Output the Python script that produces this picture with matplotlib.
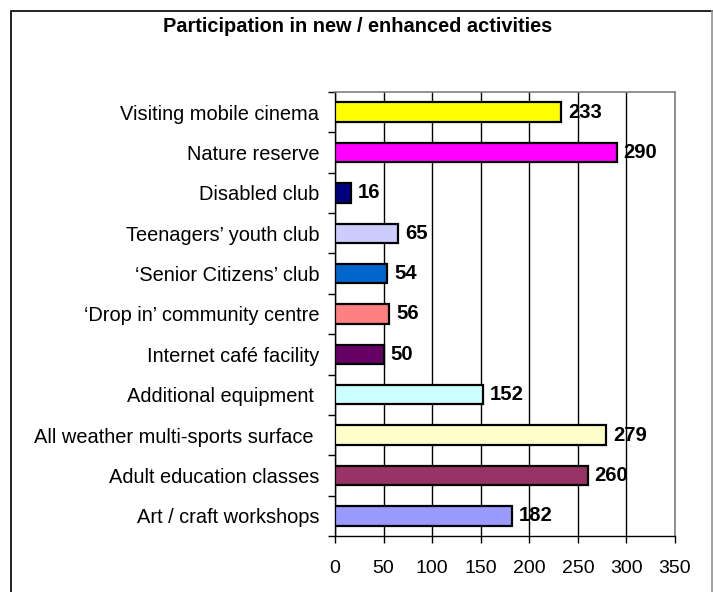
import numpy as np
import matplotlib.pyplot as plt
from matplotlib.lines import Line2D

plt.rcParams['font.family'] = ['Liberation Sans', 'DejaVu Sans']

# bottom to top
activities = [
    'Art / craft workshops',
    'Adult education classes',
    'All weather multi-sports surface ',
    'Additional equipment ',
    'Internet caf\u00e9 facility',
    '\u2018Drop in\u2019 community centre',
    '\u2018Senior Citizens\u2019 club',
    'Teenagers\u2019 youth club',
    'Disabled club',
    'Nature reserve',
    'Visiting mobile cinema',
]
participants = [182, 260, 279, 152, 50, 56, 54, 65, 16, 290, 233]
bar_colors = ['#9999FF', '#993366', '#FFFFCC', '#CCFFFF', '#660066', '#FF8080',
              '#0066CC', '#CCCCFF', '#000080', '#FF00FF', '#FFFF00']
x_ticks = [0, 50, 100, 150, 200, 250, 300, 350]

W, H = 713, 592
fig = plt.figure(figsize=(W / 100, H / 100), dpi=100)
ax = fig.add_axes([335 / W, 1 - 536 / H, 340 / W, 444 / H])

ypos = np.arange(len(activities))
ax.barh(ypos, participants, height=0.48, color=bar_colors,
        edgecolor='black', linewidth=1.6, zorder=3)

for y, v in zip(ypos, participants):
    ax.annotate(str(v), (v, y), xytext=(5, 0), textcoords='offset points',
                va='center', ha='left', fontsize=14.6, fontweight='bold')

ax.set_xlim(0, 350)
ax.set_ylim(-0.5, len(activities) - 0.5)
ax.set_xticks(x_ticks)
ax.set_yticks(ypos)
ax.set_yticklabels(activities)
ax.set_yticks(np.arange(-0.5, len(activities)), minor=True)
ax.tick_params(axis='y', which='major', length=0, pad=11.5, labelsize=14.4)
ax.tick_params(axis='y', which='minor', length=5, width=1, direction='out')
ax.tick_params(axis='x', length=5, width=1, direction='out', pad=12, labelsize=14)
ax.xaxis.grid(True, color='black', linewidth=1, zorder=0)

for side in ['top', 'right']:
    ax.spines[side].set_color('#808080')
    ax.spines[side].set_linewidth(1.2)
for side in ['left', 'bottom']:
    ax.spines[side].set_color('black')
    ax.spines[side].set_linewidth(1)

fig.text(0.501, 1 - 27 / H, 'Participation in new / enhanced activities',
         ha='center', va='center', fontsize=14.4, fontweight='bold')

# chart frame: left and top black, right edge grey, bottom cut off
x0, x1, y0 = 11 / W, 711.5 / W, 1 - 10.5 / H
fig.lines.append(Line2D([x0, x0, x1], [0, y0, y0], transform=fig.transFigure,
                        color='#222222', linewidth=1.4))
fig.lines.append(Line2D([x1, x1], [0, y0], transform=fig.transFigure,
                        color='#909090', linewidth=1.2))

fig.savefig('out.png', dpi=100, facecolor='white')
